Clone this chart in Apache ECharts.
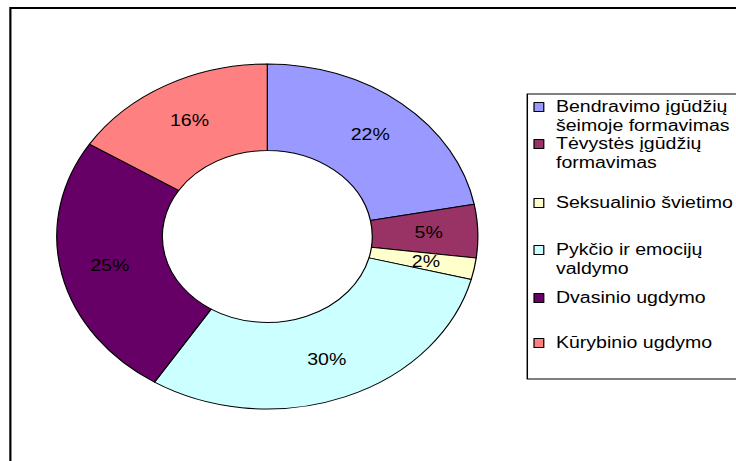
<!DOCTYPE html>
<html>
<head>
<meta charset="utf-8">
<script src="https://cdn.jsdelivr.net/npm/echarts@6/dist/echarts.min.js"></script>
<style>
  html, body { margin: 0; padding: 0; overflow: hidden; background: #fff; }
  /* the reference picture is stretched sideways, so draw narrow and stretch */
  #chart { width: 603px; height: 461px; transform: scaleX(1.2206); transform-origin: 0 0; }
</style>
</head>
<body>
<div id="chart"></div>
<script>
const categories = [
  'Bendravimo įgūdžių\nšeimoje formavimas',
  'Tėvystės įgūdžių\nformavimas',
  'Seksualinio švietimo',
  'Pykčio ir emocijų\nvaldymo',
  'Dvasinio ugdymo',
  'Kūrybinio ugdymo'
]
const shares = [22, 5, 2, 30, 25, 16]
const colors = ['#9999ff', '#993366', '#ffffcc', '#ccffff', '#660066', '#ff8080']

const FONT = "'Liberation Sans', Arial, sans-serif"
const LH = 18.5
// y of the first text line of each legend entry
const legendLineY = [107, 144, 203, 250, 298, 343]

const chart = echarts.init(document.getElementById('chart'), null, { renderer: 'svg' })

chart.setOption({
  animation: false,
  graphic: [
    {
      type: 'rect',
      shape: { x: 8.5, y: 8, width: 700, height: 500 },
      style: { fill: 'none', stroke: '#000', lineWidth: 1.8 },
      silent: true
    },
    {
      type: 'rect',
      shape: { x: 432, y: 94, width: 300, height: 285 },
      style: { fill: 'none', stroke: '#000', lineWidth: 1.2 },
      silent: true
    }
  ],
  legend: categories.map((name, i) => {
    const multi = name.indexOf('\n') >= 0
    return {
      data: [name],
      orient: 'vertical',
      left: 437,
      // an empty first line keeps the marker level with the first text line
      top: legendLineY[i] - (multi ? 1.5 : 0.5) * LH,
      padding: 0,
      itemWidth: 8,
      itemHeight: 9,
      icon: 'rect',
      selectedMode: false,
      formatter: n => (multi ? '\n' + n : n),
      itemStyle: { borderColor: '#000', borderWidth: 1 },
      textStyle: {
        fontFamily: FONT,
        fontSize: 16,
        lineHeight: LH,
        color: '#000',
        padding: [0, 0, 0, 5]
      }
    }
  }),
  series: [
    {
      type: 'pie',
      center: [219, 236.5],
      radius: [86, 172.5],
      startAngle: 90,
      clockwise: true,
      avoidLabelOverlap: false,
      emphasis: { disabled: true },
      itemStyle: { borderColor: '#000', borderWidth: 1 },
      label: {
        position: 'inside',
        formatter: '{c}%',
        fontFamily: FONT,
        fontSize: 16,
        color: '#000'
      },
      labelLine: { show: false },
      data: categories.map((name, i) => ({
        name: name,
        value: shares[i],
        itemStyle: { color: colors[i] }
      }))
    }
  ]
})
</script>
</body>
</html>
